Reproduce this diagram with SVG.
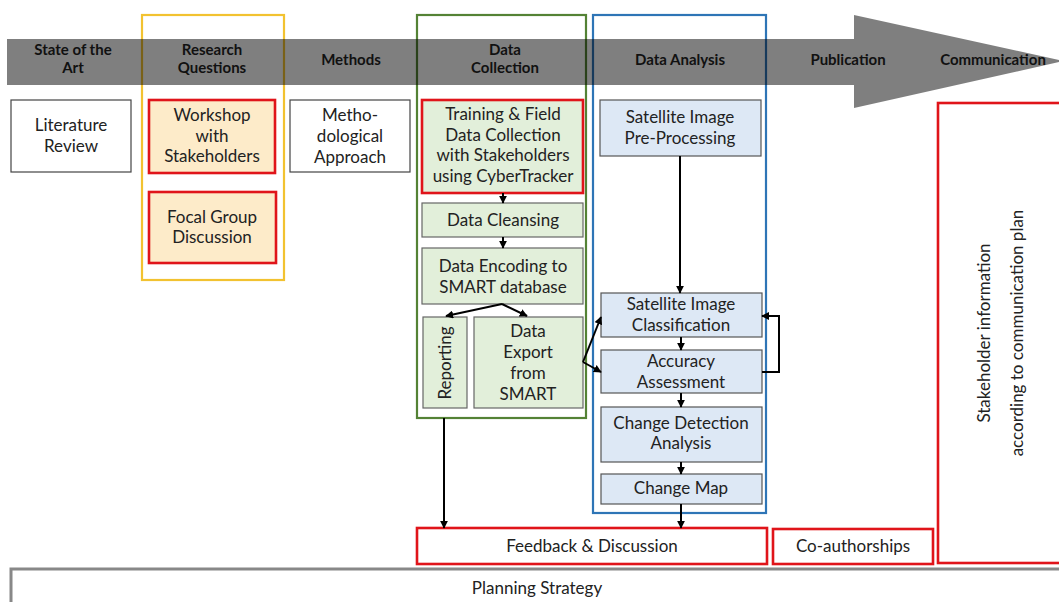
<svg xmlns="http://www.w3.org/2000/svg" width="1059" height="602" viewBox="0 0 1059 602">
<defs>
<marker id="ah" viewBox="0 0 10 10" refX="9" refY="5" markerWidth="4" markerHeight="4" orient="auto" markerUnits="strokeWidth">
<path d="M0,0 L10,5 L0,10 z" fill="#000"/>
</marker>
<style>
text{font-family:Lato,"Open Sans","Liberation Sans",sans-serif;fill:#222;}
.n{font-size:17px;text-anchor:middle;}
.h{font-size:15px;font-weight:bold;text-anchor:middle;fill:#111;}
.plain{fill:#fff;stroke:#444;stroke-width:1.2;}
.or{fill:#fdebc9;stroke:#e0141a;stroke-width:2.6;}
.grr{fill:#e2efda;stroke:#e0141a;stroke-width:2.6;}
.gr{fill:#e2efda;stroke:#666;stroke-width:1.2;}
.bl{fill:#dde8f5;stroke:#555;stroke-width:1.2;}
.red{fill:#fff;stroke:#e0141a;stroke-width:2.6;}
.c{fill:none;stroke:#000;stroke-width:2;}
</style>
</defs>

<g id="frame-research"><rect x="142" y="15" width="142" height="265" fill="none" stroke="#f2c230" stroke-width="2.2"/></g>
<g id="frame-collection"><rect x="417" y="15" width="169" height="403" fill="none" stroke="#548235" stroke-width="2.2"/></g>
<g id="frame-analysis"><rect x="593" y="15" width="173" height="498" fill="none" stroke="#2e75b6" stroke-width="2.2"/></g>

<g id="timeline">
<polygon points="7,39 854,39 854,15 1064,61 854,108 854,85 7,85" fill="#000" fill-opacity="0.5"/>
<text class="h" x="73" y="55">State of the</text>
<text class="h" x="73" y="73">Art</text>
<text class="h" x="212" y="55">Research</text>
<text class="h" x="212" y="73">Questions</text>
<text class="h" x="351" y="65">Methods</text>
<text class="h" x="505" y="55">Data</text>
<text class="h" x="505" y="73">Collection</text>
<text class="h" x="680" y="65">Data Analysis</text>
<text class="h" x="848" y="65">Publication</text>
<text class="h" x="993" y="65">Communication</text>
</g>

<g id="literature-review"><rect class="plain" x="11" y="100" width="120" height="72"/>
<text class="n" x="71" y="131">Literature</text><text class="n" x="71" y="152">Review</text></g>

<g id="workshop"><rect class="or" x="149" y="100" width="126" height="73"/>
<text class="n" x="212" y="121">Workshop</text><text class="n" x="212" y="141.5">with</text><text class="n" x="212" y="162">Stakeholders</text></g>

<g id="focal-group"><rect class="or" x="149" y="192" width="127" height="71"/>
<text class="n" x="212" y="222.5">Focal Group</text><text class="n" x="212" y="243">Discussion</text></g>

<g id="methodological"><rect class="plain" x="290" y="100" width="120" height="72"/>
<text class="n" x="350" y="121">Metho-</text><text class="n" x="350" y="142">dological</text><text class="n" x="350" y="163">Approach</text></g>

<g id="training"><rect class="grr" x="422" y="100" width="161" height="93"/>
<text class="n" x="503" y="120">Training &amp; Field</text><text class="n" x="503" y="140.5">Data Collection</text><text class="n" x="503" y="161">with Stakeholders</text><text class="n" x="503" y="181.5">using CyberTracker</text></g>

<g id="data-cleansing"><rect class="gr" x="422" y="203" width="161" height="34"/>
<text class="n" x="503" y="226">Data Cleansing</text></g>

<g id="data-encoding"><rect class="gr" x="422" y="248" width="161" height="56"/>
<text class="n" x="503" y="272">Data Encoding to</text><text class="n" x="503" y="293">SMART database</text></g>

<g id="reporting"><rect class="gr" x="423" y="317" width="44" height="91"/>
<text class="n" transform="translate(451,363) rotate(-90)">Reporting</text></g>

<g id="data-export"><rect class="gr" x="474" y="317" width="109" height="91"/>
<text class="n" x="528" y="337">Data</text><text class="n" x="528" y="358">Export</text><text class="n" x="528" y="379">from</text><text class="n" x="528" y="399.5">SMART</text></g>

<g id="preprocessing"><rect class="bl" x="600" y="100" width="161" height="56"/>
<text class="n" x="680" y="123">Satellite Image</text><text class="n" x="680" y="144">Pre-Processing</text></g>

<g id="classification"><rect class="bl" x="601" y="293" width="161" height="44"/>
<text class="n" x="681" y="310">Satellite Image</text><text class="n" x="681" y="331">Classification</text></g>

<g id="accuracy"><rect class="bl" x="601" y="350" width="161" height="43"/>
<text class="n" x="681" y="367">Accuracy</text><text class="n" x="681" y="388">Assessment</text></g>

<g id="change-detection"><rect class="bl" x="601" y="407" width="161" height="55"/>
<text class="n" x="681" y="428.5">Change Detection</text><text class="n" x="681" y="449">Analysis</text></g>

<g id="change-map"><rect class="bl" x="601" y="474" width="161" height="30"/>
<text class="n" x="681" y="494">Change Map</text></g>

<g id="feedback"><rect class="red" x="417" y="528" width="350" height="36"/>
<text class="n" x="592" y="552">Feedback &amp; Discussion</text></g>

<g id="co-authorships"><rect class="red" x="773" y="529" width="160" height="35"/>
<text class="n" x="853" y="552">Co-authorships</text></g>

<g id="stakeholder-info"><rect class="red" x="938" y="103" width="130" height="460"/>
<text class="n" transform="translate(990,333) rotate(-90)">Stakeholder information</text>
<text class="n" transform="translate(1023,333) rotate(-90)">according to communication plan</text></g>

<g id="planning-strategy"><rect x="11" y="569" width="1060" height="50" fill="#fff" stroke="#888" stroke-width="3"/>
<text class="n" x="537" y="594">Planning Strategy</text></g>

<g id="connectors">
<line class="c" x1="503" y1="193" x2="503" y2="203" marker-end="url(#ah)"/>
<line class="c" x1="503" y1="237" x2="503" y2="248" marker-end="url(#ah)"/>
<line class="c" x1="502" y1="304" x2="446" y2="316" marker-end="url(#ah)"/>
<line class="c" x1="502" y1="304" x2="527" y2="316" marker-end="url(#ah)"/>
<line class="c" x1="680" y1="156" x2="680" y2="293" marker-end="url(#ah)"/>
<line class="c" x1="681" y1="337" x2="681" y2="350" marker-end="url(#ah)"/>
<line class="c" x1="681" y1="393" x2="681" y2="407" marker-end="url(#ah)"/>
<line class="c" x1="681" y1="462" x2="681" y2="474" marker-end="url(#ah)"/>
<line class="c" x1="681" y1="504" x2="681" y2="528" marker-end="url(#ah)"/>
<line class="c" x1="444" y1="418" x2="444" y2="528" marker-end="url(#ah)"/>
<line class="c" x1="583" y1="362" x2="601" y2="317" marker-end="url(#ah)"/>
<line class="c" x1="583" y1="362" x2="601" y2="372" marker-end="url(#ah)"/>
<polyline class="c" points="762,372 779,372 779,316 762,316" marker-end="url(#ah)"/>
</g>
</svg>
